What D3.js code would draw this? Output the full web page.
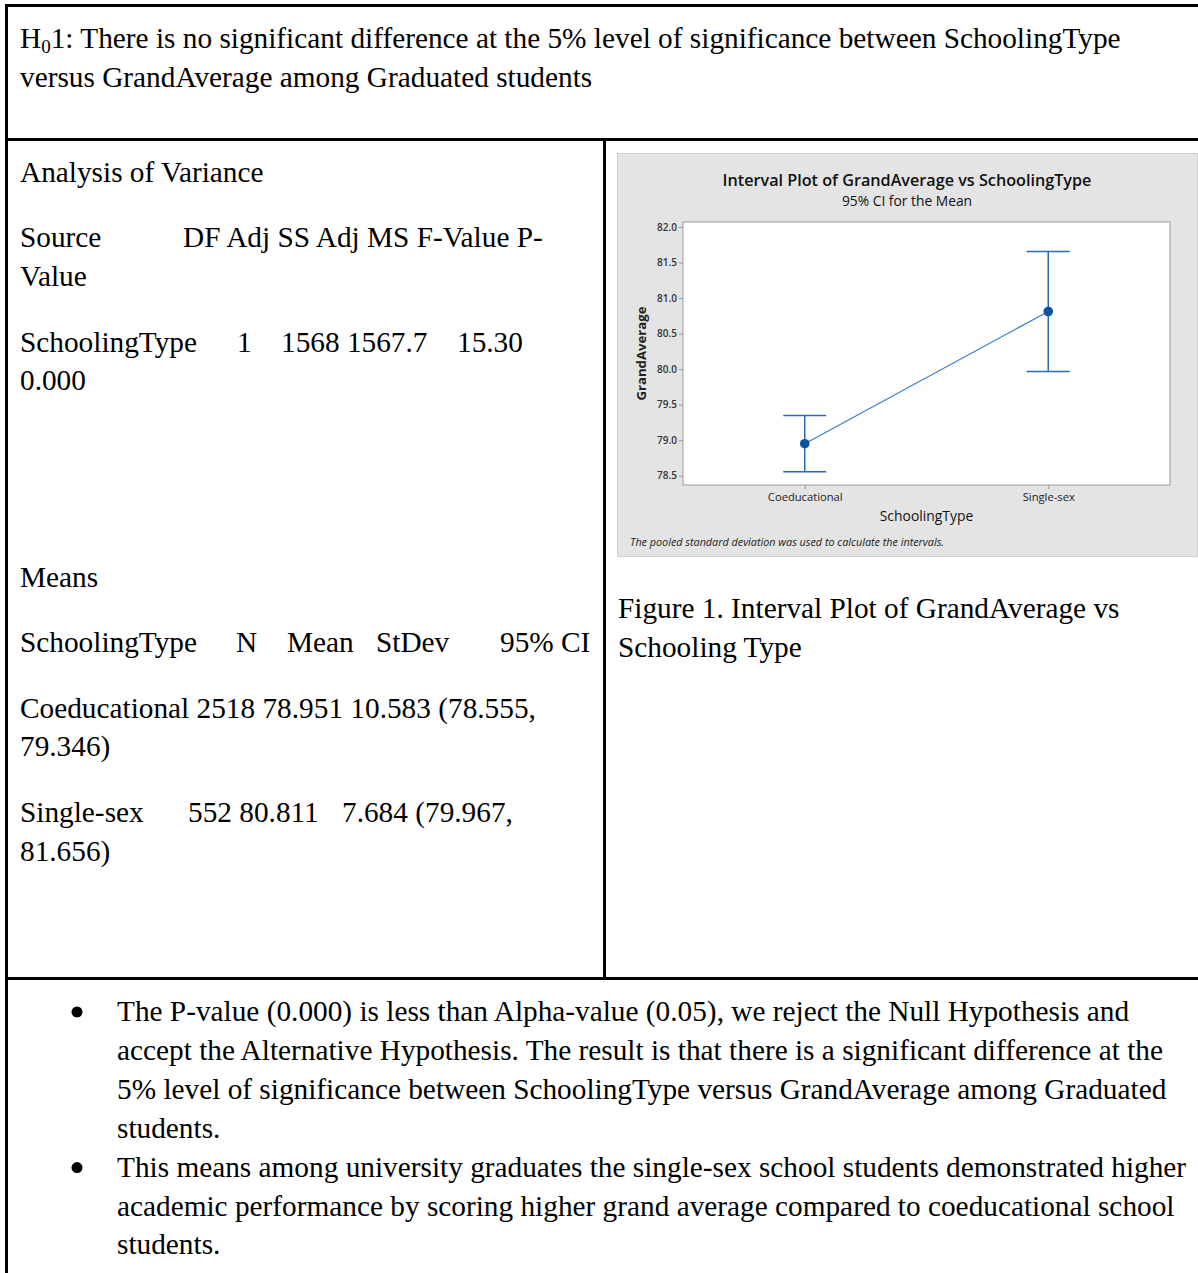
<!DOCTYPE html>
<html>
<head>
<meta charset="utf-8">
<script src="https://cdn.jsdelivr.net/npm/d3@7"></script>
<style>
  html, body { margin: 0; padding: 0; background: #fff; }
  svg { display: block; }
</style>
</head>
<body>
<svg id="page" width="1198" height="1273"></svg>
<script>
// ---- Data ----------------------------------------------------------------
const categories = ["Coeducational", "Single-sex"];
const groupN     = [2518, 552];
const means      = [78.951, 80.811];
const stdevs     = [10.583, 7.684];
const ciLower    = [78.555, 79.967];
const ciUpper    = [79.346, 81.656];
const yTicks     = [78.5, 79.0, 79.5, 80.0, 80.5, 81.0, 81.5, 82.0];

// ANOVA table row
const anovaSource = "SchoolingType";
const anovaDF = 1, anovaAdjSS = 1568, anovaAdjMS = 1567.7, anovaF = 15.30, anovaP = 0.000;

const svg = d3.select("#page");
const serif = "'Liberation Serif', 'Times New Roman', serif";
const sans  = "'Open Sans', 'Noto Sans', sans-serif";
const fs = 29.3;

// ---- Document frame ----------------------------------------------------
const frame = svg.append("g").attr("stroke", "#000").attr("stroke-width", 3);
frame.append("line").attr("x1", 5).attr("x2", 1198).attr("y1", 5.5).attr("y2", 5.5);
frame.append("line").attr("x1", 6.5).attr("x2", 6.5).attr("y1", 4).attr("y2", 1273);
frame.append("line").attr("x1", 5).attr("x2", 1198).attr("y1", 139.5).attr("y2", 139.5);
frame.append("line").attr("x1", 604.5).attr("x2", 604.5).attr("y1", 139).attr("y2", 979);
frame.append("line").attr("x1", 5).attr("x2", 1198).attr("y1", 978.5).attr("y2", 978.5);

// ---- Text helpers --------------------------------------------------------
function txt(x, y) {
  return svg.append("text").attr("x", x).attr("y", y)
    .attr("font-family", serif).attr("font-size", fs).attr("fill", "#000");
}
function line(x, y, s) { txt(x, y).text(s); }

const f3 = d3.format(".3f");
const f1 = d3.format(".1f");
const f2 = d3.format(".2f");

// Hypothesis
{
  const t = txt(20, 48);
  t.append("tspan").text("H");
  t.append("tspan").attr("font-size", fs * 0.65).attr("dy", 5).text("0");
  t.append("tspan").attr("dy", -5).text("1: There is no significant difference at the 5% level of significance between SchoolingType");
  line(20, 87, "versus GrandAverage among Graduated students");
}

// ANOVA
line(20, 182, "Analysis of Variance");
line(20, 247, "Source");
line(183, 247, "DF Adj SS Adj MS F-Value P-");
line(20, 286, "Value");
line(20, 352, anovaSource);
line(237, 352, String(anovaDF));
line(281, 352, anovaAdjSS + " " + f1(anovaAdjMS));
line(457, 352, f2(anovaF));
line(20, 390, f3(anovaP));

// Means table
line(20, 587, "Means");
line(20, 652, "SchoolingType");
line(236, 652, "N");
line(287, 652, "Mean");
line(376, 652, "StDev");
line(500, 652, "95% CI");
line(20, 718, `${categories[0]} ${groupN[0]} ${f3(means[0])} ${f3(stdevs[0])} (${f3(ciLower[0])},`);
line(20, 756, `${f3(ciUpper[0])})`);
line(20, 822, categories[1]);
line(188, 822, `${groupN[1]} ${f3(means[1])}`);
line(342, 822, `${f3(stdevs[1])} (${f3(ciLower[1])},`);
line(20, 861, `${f3(ciUpper[1])})`);

// Caption
line(618, 618, "Figure 1. Interval Plot of GrandAverage vs");
line(618, 657, "Schooling Type");

// Bullets
const bulletLines = [
  ["The P-value (0.000) is less than Alpha-value (0.05), we reject the Null Hypothesis and", true],
  ["accept the Alternative Hypothesis. The result is that there is a significant difference at the", false],
  ["5% level of significance between SchoolingType versus GrandAverage among Graduated", false],
  ["students.", false],
  ["This means among university graduates the single-sex school students demonstrated higher", true],
  ["academic performance by scoring higher grand average compared to coeducational school", false],
  ["students.", false]
];
bulletLines.forEach(([s, b], i) => {
  const y = 1021 + i * 38.9;
  if (b) svg.append("circle").attr("cx", 77).attr("cy", y - 9).attr("r", 5.5).attr("fill", "#000");
  line(117, y, s);
});

// ---- Interval plot -------------------------------------------------------
const panel = svg.append("g");
panel.append("rect").attr("x", 617.5).attr("y", 153.5).attr("width", 580).attr("height", 403)
  .attr("fill", "#e4e4e4").attr("stroke", "#cfcfcf").attr("stroke-width", 1);

const plot = { left: 683, right: 1170, top: 222, bottom: 485 };

const x = d3.scalePoint().domain(categories).range([plot.left, plot.right]).padding(0.5);
const y = d3.scaleLinear().domain([78.37, 82.07]).range([plot.bottom, plot.top]);

panel.append("rect").attr("x", plot.left).attr("y", plot.top)
  .attr("width", plot.right - plot.left).attr("height", plot.bottom - plot.top)
  .attr("fill", "#fff").attr("stroke", "#a9a9a9").attr("stroke-width", 1.2);

// Axes
const yAxis = panel.append("g").attr("transform", `translate(${plot.left},0)`)
  .call(d3.axisLeft(y).tickValues(yTicks).tickFormat(d3.format(".1f")).tickSize(4).tickPadding(2));
yAxis.select(".domain").remove();
yAxis.selectAll(".tick line").attr("stroke", "#9a9a9a");
yAxis.selectAll(".tick text").attr("font-family", sans).attr("font-size", 10)
  .attr("font-weight", 600).attr("fill", "#333");

const xAxis = panel.append("g").attr("transform", `translate(0,${plot.bottom})`)
  .call(d3.axisBottom(x).tickSize(4).tickPadding(4));
xAxis.select(".domain").remove();
xAxis.selectAll(".tick line").attr("stroke", "#9a9a9a");
xAxis.selectAll(".tick text").attr("font-family", sans).attr("font-size", 11.2)
  .attr("fill", "#222");

// Titles
panel.append("text").attr("x", 907).attr("y", 186).attr("text-anchor", "middle")
  .attr("font-family", sans).attr("font-size", 16.2).attr("font-weight", 600).attr("fill", "#111")
  .text("Interval Plot of GrandAverage vs SchoolingType");
panel.append("text").attr("x", 907).attr("y", 206).attr("text-anchor", "middle")
  .attr("font-family", sans).attr("font-size", 13.8).attr("fill", "#111")
  .text("95% CI for the Mean");
panel.append("text").attr("x", (plot.left + plot.right) / 2).attr("y", 521).attr("text-anchor", "middle")
  .attr("font-family", sans).attr("font-size", 13.9).attr("fill", "#111")
  .text("SchoolingType");
panel.append("text").attr("transform", `translate(646,${(plot.top + plot.bottom) / 2}) rotate(-90)`)
  .attr("text-anchor", "middle")
  .attr("font-family", sans).attr("font-size", 13.2).attr("font-weight", 700).attr("fill", "#222")
  .text("GrandAverage");
panel.append("text").attr("x", 630).attr("y", 546)
  .attr("font-family", sans).attr("font-size", 10.8).attr("font-style", "italic").attr("fill", "#222")
  .text("The pooled standard deviation was used to calculate the intervals.");

// Data marks
const rows = categories.map((c, i) => ({ c, mean: means[i], lo: ciLower[i], hi: ciUpper[i] }));
const blue = "#2a6cb8";

panel.append("path").datum(rows)
  .attr("d", d3.line().x(d => x(d.c)).y(d => y(d.mean)))
  .attr("fill", "none").attr("stroke", "#3d7cc9").attr("stroke-width", 1.2);

const capHalf = 21.5;
const bars = panel.selectAll(".ci").data(rows).join("g").attr("class", "ci")
  .attr("stroke", blue).attr("stroke-width", 1.5);
bars.append("line").attr("x1", d => x(d.c)).attr("x2", d => x(d.c))
  .attr("y1", d => y(d.lo)).attr("y2", d => y(d.hi));
bars.append("line").attr("x1", d => x(d.c) - capHalf).attr("x2", d => x(d.c) + capHalf)
  .attr("y1", d => y(d.hi)).attr("y2", d => y(d.hi));
bars.append("line").attr("x1", d => x(d.c) - capHalf).attr("x2", d => x(d.c) + capHalf)
  .attr("y1", d => y(d.lo)).attr("y2", d => y(d.lo));

panel.selectAll(".pt").data(rows).join("circle").attr("class", "pt")
  .attr("cx", d => x(d.c)).attr("cy", d => y(d.mean)).attr("r", 4.8)
  .attr("fill", "#0b52a3");
</script>
</body>
</html>
